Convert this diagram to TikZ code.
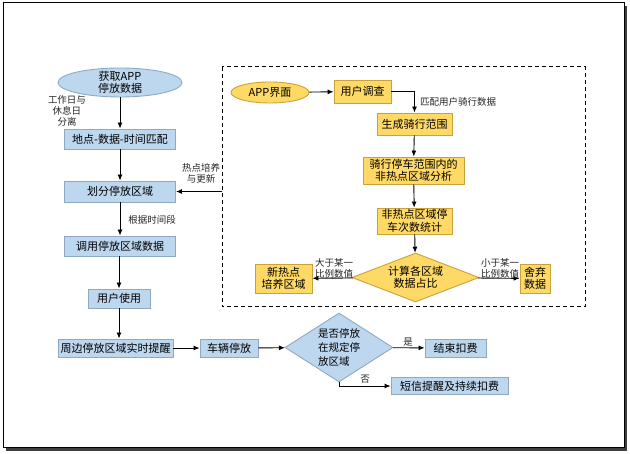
\documentclass[tikz,border=0pt]{standalone}
\usepackage{fontspec}
\newfontfamily\cjk{Noto Sans CJK SC}
\usetikzlibrary{shapes.geometric,arrows.meta}
\definecolor{boxblue}{HTML}{BDD7EE}
\definecolor{lineblue}{HTML}{8FA9C2}
\definecolor{boxgold}{HTML}{FFD966}
\definecolor{linegold}{HTML}{C9A23E}
\tikzset{
	bluebox/.style={draw=lineblue, fill=boxblue, line width=0.9pt, inner sep=1pt, align=center, font=\cjk\fontsize{11}{12.5}\selectfont},
	goldbox/.style={draw=linegold, fill=boxgold, line width=0.9pt, inner sep=1pt, align=center, font=\cjk\fontsize{11}{12.5}\selectfont},
	tip/.style={font=\cjk\fontsize{9.5}{11}\selectfont, text=black!85, inner sep=0pt, align=center},
	flow/.style={line width=0.9pt, -{Latex[length=6pt,width=5pt]}}
}
\begin{document}
\begin{tikzpicture}[x=1pt, y=-1pt]
		%%%%% START %%%%%
		\useasboundingbox (0, 0) rectangle (630, 454);
		\fill[black!75] (6, 6) rectangle (627, 451);
		\draw[line width=1pt, fill=white] (3, 3) rectangle (624, 448);
		
		\draw[line width=1pt, dash pattern=on 4pt off 3pt] (222, 67) rectangle (585, 307);
		\coordinate (hotin) at (222, 191.5);
		
		\node[bluebox, ellipse, inner xsep=3pt, inner ysep=-1.5pt, minimum width=124, minimum height=29] (get) at (120, 82.5) {获取APP\\停放数据};
		\node[bluebox, minimum width=111, minimum height=20] (match) at (120, 139) {地点-数据-时间匹配};
		\node[bluebox, minimum width=111, minimum height=21] (split) at (120, 191.5) {划分停放区域};
		\node[bluebox, minimum width=111, minimum height=20] (call) at (120, 246) {调用停放区域数据};
		\node[bluebox, minimum width=62, minimum height=19] (use) at (119, 298.5) {用户使用};
		\node[bluebox, minimum width=115, minimum height=18] (remind) at (115.5, 348) {周边停放区域实时提醒};
		\node[bluebox, minimum width=58, minimum height=18] (park) at (229, 348) {车辆停放};
		\node[bluebox, diamond, aspect=1.57, inner sep=0pt, minimum width=108, minimum height=69, align=left, font=\cjk\fontsize{10.5}{14}\selectfont] (judge) at (339, 347.5) {是否停放\\在规定停\\放区域};
		\node[bluebox, minimum width=61, minimum height=18] (endfee) at (455.5, 348) {结束扣费};
		\node[bluebox, minimum width=117, minimum height=17] (sms) at (449.5, 386) {短信提醒及持续扣费};
		
		\node[goldbox, ellipse, inner sep=0pt, minimum width=78, minimum height=21] (appui) at (270, 92.5) {APP界面};
		\node[goldbox, minimum width=57, minimum height=23] (survey) at (362.5, 91.5) {用户调查};
		\node[goldbox, minimum width=75, minimum height=22] (range) at (414.5, 124) {生成骑行范围};
		\node[goldbox, minimum width=101, minimum height=27] (analy) at (413.5, 170.5) {骑行停车范围内的\\非热点区域分析};
		\node[goldbox, minimum width=75, minimum height=26] (count) at (414.5, 221) {非热点区域停\\车次数统计};
		\node[goldbox, diamond, aspect=2.6, inner sep=0pt, minimum width=127, minimum height=49] (ratio) at (415.5, 277.5) {计算各区域\\数据占比};
		\node[goldbox, minimum width=57, minimum height=29] (newhot) at (283.5, 278.5) {新热点\\培养区域};
		\node[goldbox, minimum width=30, minimum height=29] (drop) at (535, 278.5) {舍弃\\数据};
		
		\draw[flow] (get) -- (match);
		\draw[flow] (match) -- (split);
		\draw[flow] (split) -- (call);
		\draw[flow] (call.south -| use.north) -- (use);
		\draw[flow] (use) -- (use |- remind.north);
		\draw[flow] (remind) -- (park);
		\draw[flow] (park) -- (judge);
		\draw[flow] (judge) -- (endfee);
		\draw[flow] (judge.south) |- (sms.west);
		\draw[flow] (hotin) -- (split);
		
		\draw[flow] (appui) -- (survey);
		\draw[flow] (survey.east) -| (range.north);
		\draw[flow] (range) -- (analy);
		\draw[flow] (analy) -- (count);
		\draw[flow] (count) -- (ratio);
		\draw[flow] (ratio) -- (newhot);
		\draw[flow] (ratio) -- (drop);
		
		\node[tip] (lsep) at (67, 111) {工作日与\\休息日\\分离};
		\node[tip] (ltime) at (152, 220) {根据时间段};
		\node[tip] (lhot) at (201, 173) {热点培养\\与更新};
		\node[tip, anchor=west] (lride) at (420, 102) {匹配用户骑行数据};
		\node[tip] (lbig) at (334, 268.5) {大于某一\\比例数值};
		\node[tip] (lsmall) at (500, 268.5) {小于某一\\比例数值};
		\node[tip] (lyes) at (408, 342) {是};
		\node[tip] (lno) at (365, 379) {否};
		
		%%%%% END %%%%%
	\end{tikzpicture}
\end{document}
